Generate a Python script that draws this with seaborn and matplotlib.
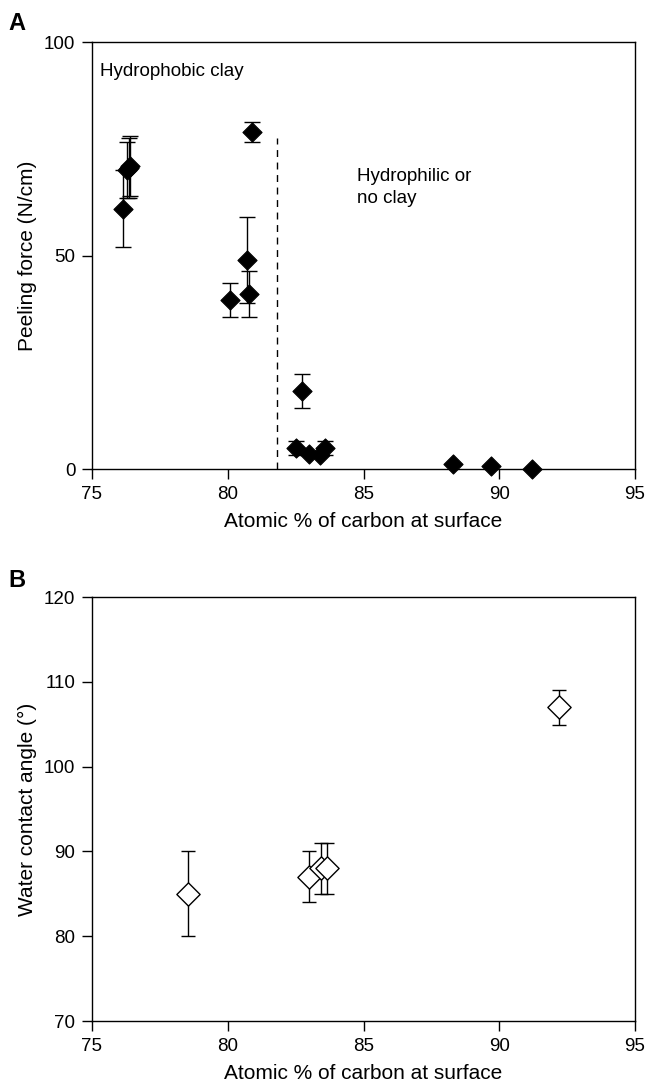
import matplotlib
matplotlib.use("Agg")
import matplotlib.pyplot as plt
import seaborn as sns
import pandas as pd

# === Panel A: peeling force vs atomic % carbon ===
carbon_a = [76.15, 76.3, 76.35, 76.4, 80.9, 80.1, 80.7, 80.8,
            82.75, 82.5, 83.0, 83.4, 83.6, 88.3, 89.7, 91.2]
peel_force = [61, 70, 70.5, 71, 79, 39.5, 49, 41,
              18.3, 5, 3.5, 3.3, 5, 1.2, 0.7, 0]
peel_err = [9, 6.5, 7, 7, 2.3, 4, 10, 5.3,
            4, 1.6, 0, 0, 1.6, 0, 0, 0]

# === Panel B: water contact angle vs atomic % carbon ===
carbon_b = [78.55, 83.0, 83.45, 83.65, 92.2]
contact_angle = [85, 87, 88, 88, 107]
angle_err = [5, 3, 3, 3, 2.1]

clay_boundary = 81.83
xlabel = "Atomic % of carbon at surface"

df_a = pd.DataFrame({"carbon": carbon_a, "force": peel_force, "err": peel_err})
df_b = pd.DataFrame({"carbon": carbon_b, "angle": contact_angle, "err": angle_err})

sns.set_style("ticks")
plt.rcParams["font.family"] = ["Liberation Sans", "DejaVu Sans"]
plt.rcParams["xtick.major.size"] = 7
plt.rcParams["ytick.major.size"] = 7
plt.rcParams["xtick.major.width"] = 1
plt.rcParams["ytick.major.width"] = 1
plt.rcParams["axes.linewidth"] = 1
plt.rcParams["axes.edgecolor"] = "black"
for key in ["text.color", "axes.labelcolor", "xtick.color", "ytick.color"]:
    plt.rcParams[key] = "black"

fig = plt.figure(figsize=(6.46, 10.87), dpi=100)
ax_a = fig.add_axes([0.1424, 0.5685, 0.8406, 0.3928])
ax_b = fig.add_axes([0.1424, 0.0607, 0.8406, 0.3900])

# --- A ---
ax_a.errorbar(df_a["carbon"], df_a["force"], yerr=df_a["err"], fmt="none",
              ecolor="black", elinewidth=1, capsize=5.5, capthick=1, zorder=2)
sns.scatterplot(data=df_a, x="carbon", y="force", marker="D", s=95,
                color="black", edgecolor="black", ax=ax_a, zorder=3, clip_on=False)
ax_a.plot([clay_boundary, clay_boundary], [0, 77.5], color="black",
          linestyle=(0, (5, 4)), linewidth=1)
ax_a.text(75.3, 93, "Hydrophobic clay", fontsize=13.5, va="center")
ax_a.text(84.75, 70.5, "Hydrophilic or\nno clay", fontsize=13.5, va="top",
          linespacing=1.4)
ax_a.set_xlim(75, 95)
ax_a.set_ylim(0, 100)
ax_a.set_xticks([75, 80, 85, 90, 95])
ax_a.set_yticks([0, 50, 100])
ax_a.set_xlabel(xlabel, fontsize=15, labelpad=7)
ax_a.set_ylabel("Peeling force (N/cm)", fontsize=15, labelpad=5)

# --- B ---
ax_b.errorbar(df_b["carbon"], df_b["angle"], yerr=df_b["err"], fmt="none",
              ecolor="black", elinewidth=1, capsize=5, capthick=1, zorder=2)
sns.scatterplot(data=df_b, x="carbon", y="angle", marker="D", s=140,
                color="white", edgecolor="black", linewidth=1, ax=ax_b, zorder=3)
ax_b.set_xlim(75, 95)
ax_b.set_ylim(70, 120)
ax_b.set_xticks([75, 80, 85, 90, 95])
ax_b.set_yticks([70, 80, 90, 100, 110, 120])
ax_b.set_xlabel(xlabel, fontsize=15, labelpad=7)
ax_b.set_ylabel("Water contact angle (°)", fontsize=15, labelpad=5)

for ax in (ax_a, ax_b):
    ax.tick_params(labelsize=13.5, color="black", pad=5)
    for side in ax.spines.values():
        side.set_visible(True)

fig.text(0.013, 0.978, "A", fontsize=17, fontweight="bold", va="center")
fig.text(0.013, 0.466, "B", fontsize=17, fontweight="bold", va="center")

fig.savefig("out.png", dpi=100)
